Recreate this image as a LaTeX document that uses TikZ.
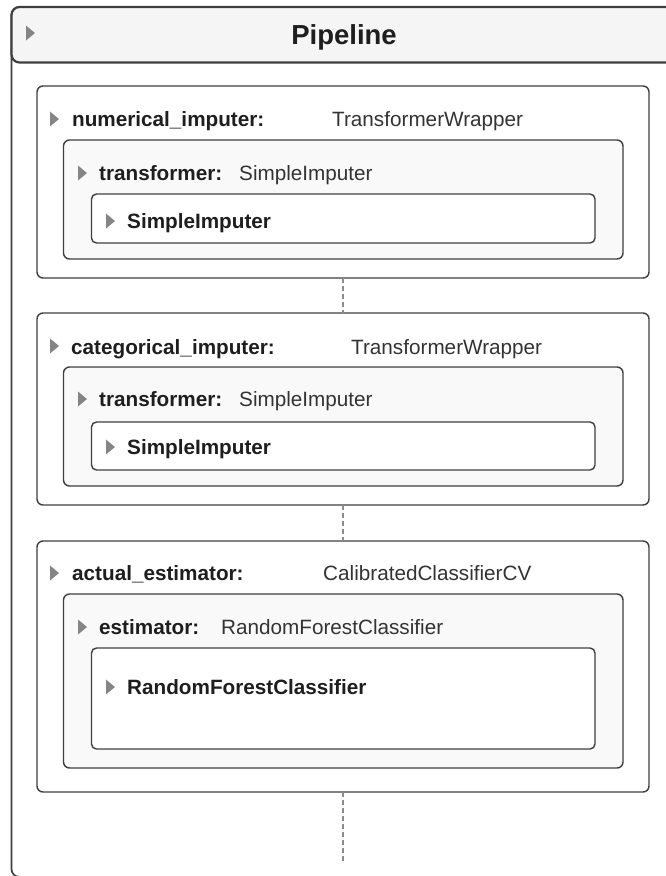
\documentclass[tikz,border=0pt]{standalone}
\usepackage{fontspec}
\setmainfont{Liberation Sans}
\definecolor{strokec}{HTML}{3F3F3F}
\definecolor{hdrfill}{HTML}{F5F5F5}
\definecolor{innerfill}{HTML}{F9F9F9}
\definecolor{trifill}{HTML}{858585}
\definecolor{lblc}{HTML}{1E1E1E}
\definecolor{valc}{HTML}{333333}
\definecolor{dashc}{HTML}{8C8C8C}
\begin{document}
\begin{tikzpicture}[x=1pt,y=-1pt,
  card/.style={draw=strokec, line width=1.4pt, rounded corners=6pt, fill=white, anchor=north west, inner sep=0pt, outer sep=0pt},
  subcard/.style={card, fill=innerfill},
  leaf/.style={card, fill=white, rounded corners=5pt},
  lab/.style={anchor=base west, inner sep=0pt, font=\fontsize{20.7}{24}\selectfont\bfseries, text=lblc},
  val/.style={anchor=base west, inner sep=0pt, font=\fontsize{20.7}{24}\selectfont, text=valc},
  link/.style={draw=dashc, line width=2pt, dash pattern=on 5pt off 3pt},
  caret/.pic={\fill[trifill] (0,-7.5) -- (9,0) -- (0,7.5) -- cycle;}
]
\useasboundingbox (0,0) rectangle (665,876);
\fill[white] (0,0) rectangle (665,876);
% outer pipeline container
\node[card, line width=1.7pt, rounded corners=8pt, minimum width=668.5pt, minimum height=870pt] (outer) at (11.5,7) {};
\node[card, fill=hdrfill, line width=2.2pt, rounded corners=8pt, minimum width=668.5pt, minimum height=55.5pt] (hdr) at (11.5,7) {};
\pic at (26,33) {caret};
\node[anchor=base, inner sep=0pt, font=\fontsize{27.5}{32}\selectfont\bfseries, text=lblc] (ptitle) at (344,44) {Pipeline};

% card 1
\node[card, minimum width=612pt, minimum height=192pt] (c1) at (37,86) {};
\pic at (50,119) {caret};
\node[lab] (c1k) at (72,126.5) {numerical\_imputer:};
\node[val] (c1v) at (332,126.5) {TransformerWrapper};
\node[subcard, minimum width=559.5pt, minimum height=119pt] (s1) at (63.5,140) {};
\pic at (78,173) {caret};
\node[lab] (s1k) at (99,180.5) {transformer:};
\node[val] (s1v) at (239,180.5) {SimpleImputer};
\node[leaf, minimum width=503.5pt, minimum height=49pt] (l1) at (91.5,194) {};
\pic at (106,221) {caret};
\node[lab] (l1k) at (127,228.5) {SimpleImputer};

% card 2
\node[card, minimum width=612pt, minimum height=192pt] (c2) at (37,313) {};
\pic at (50,346) {caret};
\node[lab] (c2k) at (71,354) {categorical\_imputer:};
\node[val] (c2v) at (351,354) {TransformerWrapper};
\node[subcard, minimum width=559.5pt, minimum height=119pt] (s2) at (63.5,367) {};
\pic at (78,399) {caret};
\node[lab] (s2k) at (99,406.5) {transformer:};
\node[val] (s2v) at (239,406.5) {SimpleImputer};
\node[leaf, minimum width=503.5pt, minimum height=48pt] (l2) at (91.5,422) {};
\pic at (106,447) {caret};
\node[lab] (l2k) at (127,454.5) {SimpleImputer};

% card 3
\node[card, minimum width=612pt, minimum height=251pt] (c3) at (37,541) {};
\pic at (50,573) {caret};
\node[lab] (c3k) at (72,580.5) {actual\_estimator:};
\node[val] (c3v) at (323,580.5) {CalibratedClassifierCV};
\node[subcard, minimum width=559.5pt, minimum height=174pt] (s3) at (63.5,594) {};
\pic at (78,627) {caret};
\node[lab] (s3k) at (99,634.5) {estimator:};
\node[val] (s3v) at (221,634.5) {RandomForestClassifier};
\node[leaf, minimum width=503.5pt, minimum height=101pt] (l3) at (91.5,648) {};
\pic at (106,687) {caret};
\node[lab] (l3k) at (127,694) {RandomForestClassifier};

% connectors
\coordinate (tail) at (343,862);
\draw[link] (c1.south) -- (c2.north);
\draw[link] (c2.south) -- (c3.north);
\draw[link] (c3.south) -- (tail);
\end{tikzpicture}
\end{document}
